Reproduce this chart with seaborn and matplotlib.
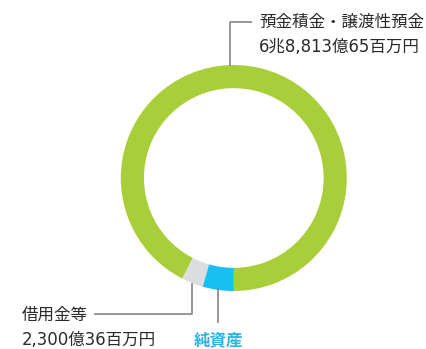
import matplotlib
matplotlib.use("Agg")
import matplotlib.pyplot as plt
import seaborn as sns

# Data (億円)
categories = ["預金積金・譲渡性預金", "借用金等", "純資産"]
values = [68813.65, 2300.36, 3300.0]
value_labels = ["6兆8,813億65百万円", "2,300億36百万円", ""]
colors = ["#A8CF39", "#DCDDDF", "#16C1F1"]

sns.set_theme(style="white")
plt.rcParams["font.family"] = ["Noto Sans CJK JP", "DejaVu Sans"]

W, H = 426, 349
fig = plt.figure(figsize=(W / 100, H / 100), dpi=100)
fig.patch.set_facecolor("white")

# Donut axes placed by pixel geometry
cx, cy, r = 233.8, 178.0, 113.0
ax = fig.add_axes([(cx - r) / W, (H - cy - r) / H, 2 * r / W, 2 * r / H])
ax.pie(values, colors=sns.color_palette(colors), startangle=270, counterclock=True,
       radius=1.0, wedgeprops=dict(width=0.205, linewidth=0))
ax.set_xlim(-1, 1)
ax.set_ylim(-1, 1)
ax.set_aspect("equal")
ax.axis("off")

# Overlay axes for annotations in pixel coordinates
ov = fig.add_axes([0, 0, 1, 1], zorder=5)
ov.set_xlim(0, W)
ov.set_ylim(H, 0)
ov.axis("off")
ov.patch.set_alpha(0)

lc = "#858585"
lw = 1.2
tc = "#2a2a2a"
fs = 11.9
num_family = ["DejaVu Sans", "Noto Sans CJK JP"]

# top label
ov.plot([229.5, 229.5, 252], [66, 22, 22], color=lc, lw=lw, solid_capstyle="butt")
ov.text(259, 22, categories[0], ha="left", va="center", fontsize=fs, color=tc)
ov.text(259, 47, value_labels[0], ha="left", va="center", fontsize=fs, color=tc,
        family=num_family)

# bottom-left label
ov.plot([94, 192, 192], [314, 314, 283], color=lc, lw=lw, solid_capstyle="butt")
ov.text(22, 315, categories[1], ha="left", va="center", fontsize=fs, color=tc)
ov.text(22, 340, value_labels[1], ha="left", va="center", fontsize=fs, color=tc,
        family=num_family)

# net assets label
ov.plot([218, 218], [288, 323], color=lc, lw=lw, solid_capstyle="butt")
ov.text(218, 340, categories[2], ha="center", va="center", fontsize=fs,
        color="#2BB5E6", fontweight="bold")

fig.savefig("out.png", dpi=100, facecolor="white")
